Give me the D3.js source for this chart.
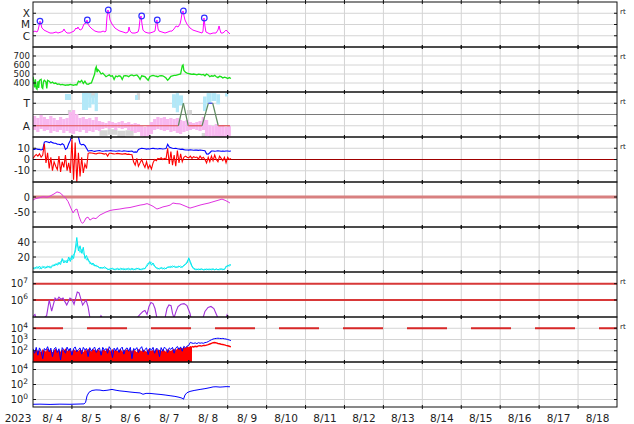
<!DOCTYPE html>
<html><head><meta charset="utf-8">
<script src="https://cdn.jsdelivr.net/npm/d3@7"></script>
<style>body{margin:0;background:#fff}text{font-family:"DejaVu Sans",sans-serif;fill:#222}</style>
</head><body><svg id="c" width="634" height="424"></svg>
<script>
// ---------------- DATA (hours since 2023-08-04 00:00) ----------------
const yearLabel = "2023";
const dayLabels = ["8/ 4","8/ 5","8/ 6","8/ 7","8/ 8","8/ 9","8/10","8/11","8/12","8/13","8/14","8/15","8/16","8/17","8/18"];

// Panel 1: X-ray flux
const xrsTicks = [1e-4, 1e-5, 1e-6];
const xrsTickLabels = ["X", "M", "C"];
const xrsData = [[0,2.15e-6],[1.2,2.6e-6],[2.5,2.15e-6],[3.1,3.2e-6],[3.7,7.4e-6],[4.3,2.0e-5],[4.9,1.1e-5],[5.5,4.9e-6],[6.8,3.2e-6],[8.0,2.6e-6],[9.2,2.15e-6],[10.5,1.75e-6],[12.3,1.75e-6],[14.2,2.15e-6],[15.4,1.75e-6],[17.3,2.15e-6],[18.5,2.6e-6],[19.1,4.0e-6],[19.7,2.6e-6],[21.0,1.75e-6],[22.8,1.75e-6],[24.0,2.15e-6],[25.3,2.6e-6],[26.5,4.9e-6],[27.1,4.0e-6],[27.7,6.0e-6],[28.4,4.0e-6],[29.0,3.2e-6],[30.2,4.0e-6],[31.4,1.1e-5],[32.7,1.36e-5],[33.3,2.5e-5],[33.9,1.1e-5],[35.1,6.0e-6],[36.4,4.0e-6],[38.2,2.6e-6],[40.1,2.15e-6],[41.9,2.15e-6],[43.2,2.6e-6],[44.4,2.15e-6],[45.0,2.6e-6],[45.6,4.6e-5],[46.2,1.95e-4],[46.9,8.6e-5],[47.5,2.5e-5],[48.7,1.1e-5],[50.5,4.9e-6],[52.4,3.2e-6],[53.6,2.6e-6],[55.5,2.15e-6],[57.3,1.75e-6],[58.6,2.15e-6],[59.2,6.0e-6],[59.8,2.6e-6],[61.0,1.75e-6],[62.9,1.75e-6],[64.7,2.15e-6],[65.3,4.0e-6],[66.0,3.1e-5],[66.6,5.7e-5],[67.2,1.1e-5],[67.8,3.2e-6],[69.0,2.15e-6],[70.9,1.75e-6],[72.1,1.75e-6],[74.0,2.15e-6],[75.2,2.6e-6],[75.8,1.1e-5],[76.4,2.5e-5],[77.1,4.0e-6],[77.7,2.6e-6],[79.5,2.15e-6],[81.4,1.75e-6],[83.2,2.15e-6],[84.5,2.6e-6],[85.7,2.6e-6],[86.9,4.0e-6],[88.2,7.4e-6],[89.4,6.0e-6],[90.6,1.1e-5],[91.2,2.5e-5],[91.9,1.05e-4],[92.5,1.6e-4],[93.1,5.7e-5],[93.7,2.5e-5],[94.9,1.1e-5],[96.8,4.9e-6],[98.6,3.2e-6],[100.5,2.6e-6],[102.3,2.15e-6],[104.2,1.75e-6],[104.8,2.6e-6],[105.4,3.8e-5],[106.0,7.4e-6],[106.6,2.15e-6],[107.9,1.75e-6],[109.1,1.43e-6],[111.0,1.75e-6],[112.8,1.75e-6],[114.0,3.2e-6],[114.7,7.4e-6],[115.3,3.2e-6],[115.9,1.75e-6],[117.1,1.75e-6],[118.4,2.6e-6],[119.0,3.2e-6],[120.2,2.15e-6],[121.4,1.43e-6]];
const flareData = [[4.3,2.0e-5],[33.5,2.5e-5],[46.4,1.95e-4],[67.0,5.7e-5],[76.6,2.5e-5],[92.7,1.6e-4],[105.6,3.8e-5]];

// Panel 2: solar wind speed
const windTicks = [700, 600, 500, 400];
const windData = [[0,470],[0.5,420],[1,350],[1.5,440],[2,340],[2.5,330],[3,420],[3.5,345],[4,430],[5,440],[5.5,350],[6,340],[6.5,420],[7,430],[8,410],[8.5,340],[9,430],[10,420],[11,400],[12,410],[13,395],[14,400],[15,385],[16,390],[17,380],[18,385],[19,380],[20,375],[21,380],[22,378],[23,385],[24,380],[25,375],[26,382],[27,378],[28,420],[29,410],[30,430],[31,395],[32,420],[33,390],[34,385],[35,395],[36,400],[37,450],[38,500],[38.5,560],[39,580],[39.5,520],[40,550],[41,530],[42,500],[43,510],[44,490],[45,470],[46,480],[47,490],[48,475],[49,480],[50,440],[51,478],[52,470],[53,480],[54,475],[55,440],[56,480],[57,482],[58,478],[59,470],[60,485],[61,490],[62,480],[63,485],[64,490],[65,470],[66,440],[67,480],[68,475],[69,470],[70,450],[71,430],[72,470],[73,480],[74,485],[75,478],[76,475],[77,470],[78,480],[79,482],[80,478],[81,470],[82,455],[83,430],[84,450],[85,475],[86,480],[87,485],[88,485],[89,490],[90,495],[91,500],[92,590],[92.5,600],[93,540],[94,520],[95,510],[96,505],[97,500],[98,495],[99,500],[100,495],[101,490],[102,498],[103,495],[104,490],[105,495],[106,480],[107,500],[108,490],[109,470],[110,480],[111,475],[112,485],[113,470],[114,460],[115,475],[116,470],[117,455],[118,465],[119,460],[120,450],[121,460],[122,450]];

// Panel 3: sector (A = 1, T = 3), 2-hour bins of scattered polarity points
const sectorTicks = [3, 1];
const sectorTickLabels = ["T", "A"];
const pinkHi = [1.87,1.69,1.96,1.78,1.60,1.87,1.69,1.51,1.78,1.60,1.69,2.22,2.40,2.04,1.69,1.78,1.60,1.69,1.51,1.78,1.42,1.33,1.24,1.42,1.33,1.24,1.33,1.42,1.24,1.33,1.16,1.24,1.16,0.98,0.89,1.07,1.33,1.60,1.78,1.69,1.78,1.60,1.69,1.60,1.69,1.51,1.42,1.51,1.33,1.24,1.33,1.42,1.78,1.51,1.07,0.98,1.16,0.98,1.07,0.89,0.98];
const pinkLo = [0.62,0.44,0.71,0.53,0.62,0.36,0.53,0.44,0.62,0.36,0.53,0.36,0.27,0.53,0.44,0.62,0.36,0.53,0.44,0.62,0.53,0.71,0.80,0.71,0.80,0.62,0.80,0.71,0.80,0.62,0.53,0.36,0.44,0.09,0.00,0.09,0.27,0.62,0.71,0.62,0.53,0.62,0.44,0.53,0.36,0.27,0.44,0.53,0.62,0.71,0.62,0.53,0.62,0.09,0.00,0.00,0.09,0.00,0.00,0.00,0.09];
const blueSpots = [[19.7,23.4,3.29,3.82],[30.2,33.9,2.4,3.91],[34,36,2.6,3.9],[36,38,2.9,3.7],[38,40,2.3,3.9],[62.9,64.7,3.29,3.73],[85.7,88,2.6,3.8],[88,90,2.2,3.9],[90,92.5,2.8,3.7],[104.8,107,2.3,3.6],[107,110,3.0,3.9],[110,113,3.2,3.9],[113,115.3,2.9,3.8],[118.4,120.2,3.6,3.9]];
const graySpots = [[21.5,23.5,2.0,2.4],[34,40,3.5,3.9],[41,46,0.1,0.6],[46,52,0.2,0.7],[52,57,0.0,0.55],[57,62,0.1,0.6],[64,66,3.3,3.9],[87,89,2.6,3.7],[95,98,2.0,2.4],[104,107,0.0,0.36],[111,118,0.0,0.2]];
const sectorHours = [0, 89.6, 92.7, 95.7, 104.2, 108.1, 110.8, 114.2, 121.4];
const sectorVals  = [1, 1, 3, 1, 1, 3, 3, 1, 1];

// Panel 4: IMF Bt (blue) and Bz (red), hourly
const bTicks = [10, 0, -10];
const btValues = [9,9,9.5,9,9,8.5,9,15.5,16,15.5,15,15.8,15,14.5,14.5,13.5,13.5,13,14,13,9,10,14,17,22,23,24,21,20,14,13,13.5,12.5,10,7.5,7.8,8,7.5,7.2,7.5,7.8,8,7.6,7.4,7.5,7.7,7.5,7.8,7.9,7.6,7.5,7.3,7.6,7.8,7.5,7.4,7.7,7.5,7.3,7.2,7.4,7.5,6.5,6.8,6.5,9,9.5,10,9.8,9.5,9.2,9.6,9.4,9.8,10,9.7,9.5,9.3,9.8,9.6,9.4,9.5,9.7,13.5,11,10.5,10,9.8,10,9.5,9.3,9,9.2,8.8,8.5,8.5,8.3,8.6,8.4,8.2,8.5,8.3,8.1,8.4,8.2,8,7.8,5,4.8,6,7.5,7.6,7.4,7.5,7.8,7.6,7.4,7.5,7.3,7.5,7.6,7.4,7.5];
const bzValues = [1,3,4.5,3,5,2,4,14,-3,6,-8,2,-10,-2,-6,-9,3,-11,-2,-7,4,-10,-3,-12,18,-18,15,-20,6,-15,2,-12,-4,-8,5.5,6,5.8,5.5,5.2,5,5.5,5.8,5.5,5.2,4.8,5.3,3,5.5,5.6,5.2,4.9,5.1,5.4,5.2,5,4.8,5,5.2,4.6,4.8,4.5,4.2,-2,-5,1,-6,-3,0,-4,-7,-2,-8,-5,-8.5,-3,0,-1,1,0.5,1.5,0,1,0.5,10,-4,7,-5,4,-6,8,-3,5,-2,2,3,2,1.5,3,1,2.5,1.8,2.2,0.5,3,1,2,0,-3,2,-2,3,-1,4,0,-2,3,1,-1,2,-3,2,0,1];

// Panel 5: Dst-like index
const dstTicks = [0, -50];
const dstData = [[0,-10],[1.8,-5],[4.3,-2],[6.2,1],[8.6,-1],[10.5,3],[12.9,10],[14.8,17],[16.6,14],[18.5,5],[20.3,-5],[21.6,-15],[22.8,-30],[24,-45],[24.7,-53],[25.9,-43],[27.1,-40],[28.4,-65],[29.6,-82],[30.5,-88],[31.4,-83],[32.7,-70],[33.9,-67],[35.1,-77],[37,-70],[38.8,-72],[41.3,-60],[43.2,-55],[45,-50],[47.5,-45],[49.3,-43],[53.6,-40],[56.7,-37],[59.8,-35],[62.9,-31],[66,-27],[68.4,-25],[70.3,-22],[72.1,-26],[74,-31],[76.4,-40],[78.2,-37],[80.1,-33],[82.6,-30],[84.5,-27],[86.3,-20],[88.2,-22],[90.6,-23],[93.7,-30],[96.8,-37],[99.3,-33],[101.1,-30],[103.6,-26],[106,-23],[108.5,-20],[110.3,-17],[112.8,-13],[115.3,-9],[116.5,-7],[118.4,-11],[120.2,-16],[121.4,-20]];

// Panel 6: two cyan series, hourly
const cyanTicks = [40, 20];
const cyanA = [6,4,7,5,8,4,6,7,5,8,6,7,9,8,11,9,13,10,18,12,15,12,20,14,22,18,30,46,28,35,25,33,18,22,15,14,10,12,8,9,7,6,6,5,7,5,4,3,4,5,3,4,4,3,5,4,3,4,4,5,3,4,3,4,5,4,3,4,4,5,7,10,14,9,12,8,6,5,4,6,5,4,5,6,7,6,8,7,6,7,8,6,7,9,10,12,19,14,8,5,4,3,4,3,4,3,3,4,3,4,3,4,3,4,3,4,4,3,4,6,9,8,10];
const cyanB = [4,6,5,7,4,6,8,5,7,6,8,5,8,10,9,12,10,14,15,16,13,16,15,19,16,24,26,38,32,26,30,24,22,16,18,11,12,9,10,7,8,5,5,6,5,6,3,4,5,4,4,3,5,4,3,4,5,3,4,3,4,5,4,3,4,5,4,3,5,4,9,12,11,13,10,7,5,4,5,5,4,6,4,7,6,8,6,8,7,6,7,8,6,8,11,14,17,12,7,4,3,4,3,4,4,3,4,3,4,3,4,4,3,4,3,3,4,4,3,8,7,10,9];

// Panel 7: purple series (log)
const purpleTicks = [1e7, 1e6];
const purpleData = [[0,1.0e5],[1.2,1.3e5],[1.8,8e4],[6.8,8e4],[8.4,1.1e5],[10,1.0e6],[11.5,2.1e5],[13.6,1.3e6],[14.8,1.0e6],[16,1.5e6],[17.3,1.1e6],[18.5,1.3e6],[20.8,4.9e5],[22.8,1.3e6],[24,1.1e6],[25.3,5.5e5],[27.3,3.1e6],[28.4,2.7e6],[30.6,4.9e5],[32.7,1.0e6],[33.9,4e5],[35.1,8e4],[41.3,8e4],[41.9,1.1e5],[42.8,8e4],[64.1,8e4],[66,1.3e5],[67.8,2e5],[69,2.3e5],[70.3,1.3e5],[71.5,4e5],[72.7,7e5],[74,6e5],[75.2,3e5],[76.4,8e4],[81.4,8e4],[82.6,3e5],[83.8,5e5],[85.1,4.5e5],[86,1.5e5],[86.9,8e4],[88.2,2e5],[89.4,4e5],[91.2,5.5e5],[93.1,6e5],[94.9,4.5e5],[96.8,1.5e5],[97.4,8e4],[104.8,8e4],[106,2e5],[107.9,3.5e5],[109.7,4e5],[111.5,3e5],[112.8,1.5e5],[114,8e4],[119,8e4],[119.6,1.2e5],[120.2,8e4]];

// Panel 8: protons (log), hourly
const protonTicks = [1e4, 1e3, 1e2];
const protonRed = [120,80,150,90,110,70,140,100,85,160,95,130,75,110,150,90,120,80,140,100,170,90,130,110,80,150,100,125,90,140,110,75,130,95,160,105,85,140,115,90,150,100,80,130,110,95,170,120,85,140,100,130,90,115,150,80,125,105,140,95,120,85,135,100,75,145,110,90,130,100,80,140,115,95,125,85,150,105,120,90,135,100,80,145,110,95,125,150,105,170,140,190,160,220,180,250,210,270,240,220,250,230,270,280,260,300,290,320,350,400,460,520,540,500,440,420,380,360,330,300,280,250,220];
const protonBlue = [150,60,200,40,180,90,20,160,110,230,80,170,30,140,200,70,150,15,190,120,60,210,100,170,40,150,220,80,130,180,50,200,120,160,30,190,90,150,210,70,140,180,40,200,110,160,60,230,130,25,170,100,190,70,150,210,50,140,180,90,200,20,160,120,190,70,150,230,80,130,180,45,170,110,200,60,160,140,30,190,90,210,150,70,180,130,200,60,170,240,130,220,90,250,180,260,300,560,480,450,500,430,520,470,500,460,530,560,650,800,950,1100,1200,1250,1300,1250,1200,1250,1150,1100,1000,900,800];
const protonFillEnd = 98;

// Panel 9: electrons (log)
const electronTicks = [1e4, 1e2, 1e0];
const electronData = [[0,0.23],[4.3,0.24],[10.5,0.22],[16.6,0.24],[22.8,0.23],[29,0.25],[31.4,0.26],[32.4,0.4],[33.3,3],[34.5,9],[36.4,16],[38.8,19],[41.3,18],[43.2,15],[45.6,17],[48.7,22],[51.2,17],[53.6,14],[56.7,12],[59.8,10],[62.9,8.5],[66,7.5],[67.8,5],[69.7,6.5],[72.1,6.5],[75.2,5.5],[78.3,4.8],[81.4,4],[84.5,3.2],[87.5,2.6],[90,2],[91.9,1.5],[92.8,1.1],[93.7,4],[94.9,8],[96.8,12],[99.3,16],[103,22],[106,28],[109.1,38],[111,48],[112.8,50],[115.3,45],[117.1,48],[119,52],[121.4,50]];

// ---------------- CHART ----------------
const L = 33, R = 617, TOP = 2, PH = 45, NP = 9, BOT = TOP + PH * NP;
const svg = d3.select("#c");
const x = d3.scaleLinear().domain([0, 360]).range([L, R]);

const scaleDefs = [
  d3.scaleLog().domain([1e-7, 1e-3]),
  d3.scaleLinear().domain([300, 800]),
  d3.scaleLinear().domain([0, 4]),
  d3.scaleLinear().domain([-20, 20]),
  d3.scaleLinear().domain([-100, 50]),
  d3.scaleLinear().domain([0, 60]),
  d3.scaleLog().domain([9.06e4, 5.2e7]),
  d3.scaleLog().domain([10, 1e5]),
  d3.scaleLog().domain([0.1, 1e5])
];
const tickSets = [xrsTicks, windTicks, sectorTicks, bTicks, dstTicks, cyanTicks, purpleTicks, protonTicks, electronTicks];
const rtPanels = [0, 1, 2, 3, 6, 7];
const ys = scaleDefs.map((s, i) => s.range([TOP + PH * (i + 1), TOP + PH * i]));

const defs = svg.append("defs");
ys.forEach((s, i) => {
  defs.append("clipPath").attr("id", "cp" + i).append("rect")
    .attr("x", L).attr("y", TOP + PH * i).attr("width", R - L).attr("height", PH);
});

const grid = svg.append("g");
d3.range(1, 15).forEach(k => {
  grid.append("line").attr("x1", x(24 * k)).attr("x2", x(24 * k)).attr("y1", TOP).attr("y2", BOT)
    .attr("stroke", "#d4d4d4").attr("stroke-width", 1);
});
ys.forEach((s, i) => {
  tickSets[i].forEach(v => {
    grid.append("line").attr("x1", L).attr("x2", R).attr("y1", s(v)).attr("y2", s(v))
      .attr("stroke", "#d4d4d4").attr("stroke-width", 1);
  });
});

function layer(i) { return svg.append("g").attr("clip-path", "url(#cp" + i + ")"); }
const lineXY = (s) => d3.line().x(d => x(d[0])).y(d => s(d[1]));
const lineIdx = (s) => d3.line().x((d, j) => x(j)).y(d => s(d));

// Panel 1
{
  const g = layer(0), s = ys[0];
  g.append("path").datum(xrsData).attr("d", lineXY(s)).attr("fill", "none").attr("stroke", "#ff00ff").attr("stroke-width", 1);
  g.selectAll("circle").data(flareData).join("circle").attr("cx", d => x(d[0])).attr("cy", d => s(d[1]))
    .attr("r", 2.8).attr("fill", "none").attr("stroke", "#3030ff").attr("stroke-width", 1.2);
}
// Panel 2
{
  const g = layer(1), s = ys[1];
  g.append("path").datum(windData).attr("d", lineXY(s)).attr("fill", "none").attr("stroke", "#19e019").attr("stroke-width", 1.3);
}
// Panel 3
{
  const g = layer(2), s = ys[2];
  g.append("line").attr("x1", L).attr("x2", R).attr("y1", s(2)).attr("y2", s(2)).attr("stroke", "#7a7a7a").attr("stroke-width", 1);
  g.selectAll("rect.g").data(graySpots).join("rect").attr("class", "g")
    .attr("x", d => x(d[0])).attr("width", d => x(d[1]) - x(d[0])).attr("y", d => s(d[3])).attr("height", d => s(d[2]) - s(d[3]))
    .attr("fill", "#d6d6d6");
  g.selectAll("rect.b").data(blueSpots).join("rect").attr("class", "b")
    .attr("x", d => x(d[0])).attr("width", d => x(d[1]) - x(d[0])).attr("y", d => s(d[3])).attr("height", d => s(d[2]) - s(d[3]))
    .attr("fill", "#b2e8f8");
  g.selectAll("rect.p").data(pinkHi).join("rect").attr("class", "p")
    .attr("x", (d, j) => x(2 * j)).attr("width", x(2) - x(0)).attr("y", d => s(d)).attr("height", (d, j) => s(pinkLo[j]) - s(d))
    .attr("fill", "#f8b8f0");
  for (let j = 0; j < sectorHours.length - 1; j++) {
    const a = sectorVals[j], b = sectorVals[j + 1];
    const col = a !== b ? "#5e8a5e" : (a === 1 ? "#e05050" : "#4040e0");
    g.append("line").attr("x1", x(sectorHours[j])).attr("x2", x(sectorHours[j + 1]))
      .attr("y1", s(a)).attr("y2", s(b)).attr("stroke", col).attr("stroke-width", 1.2);
  }
}
// Panel 4
{
  const g = layer(3), s = ys[3];
  g.append("line").attr("x1", L).attr("x2", R).attr("y1", s(0)).attr("y2", s(0)).attr("stroke", "#a00000").attr("stroke-width", 1.2);
  g.append("path").datum(btValues).attr("d", lineIdx(s)).attr("fill", "none").attr("stroke", "#0000ff").attr("stroke-width", 1.1);
  g.append("path").datum(bzValues).attr("d", lineIdx(s)).attr("fill", "none").attr("stroke", "#ff0000").attr("stroke-width", 1.1);
}
// Panel 5
{
  const g = layer(4), s = ys[4];
  g.append("line").attr("x1", L).attr("x2", R).attr("y1", s(0)).attr("y2", s(0)).attr("stroke", "#d88080").attr("stroke-width", 3);
  g.append("path").datum(dstData).attr("d", lineXY(s)).attr("fill", "none").attr("stroke", "#e030e0").attr("stroke-width", 1);
}
// Panel 6
{
  const g = layer(5), s = ys[5];
  g.append("path").datum(cyanB).attr("d", lineIdx(s)).attr("fill", "none").attr("stroke", "#40f0f0").attr("stroke-width", 1);
  g.append("path").datum(cyanA).attr("d", lineIdx(s)).attr("fill", "none").attr("stroke", "#00e8f0").attr("stroke-width", 1);
}
// Panel 7
{
  const g = layer(6), s = ys[6];
  purpleTicks.forEach(v => g.append("line").attr("x1", L).attr("x2", R).attr("y1", s(v)).attr("y2", s(v)).attr("stroke", "#d83838").attr("stroke-width", 2));
  g.append("path").datum(purpleData).attr("d", lineXY(s)).attr("fill", "none").attr("stroke", "#a030d8").attr("stroke-width", 1.1);
}
// Panel 8
{
  const g = layer(7), s = ys[7];
  g.append("line").attr("x1", L).attr("x2", R).attr("y1", s(1e4)).attr("y2", s(1e4)).attr("stroke", "#d82828").attr("stroke-width", 2)
    .attr("stroke-dasharray", "40,24").attr("stroke-dashoffset", 10);
  const fillPart = protonRed.slice(0, protonFillEnd + 1);
  g.append("path").datum(fillPart).attr("d", d3.area().x((d, j) => x(j)).y0(TOP + PH * 8).y1(d => s(d))).attr("fill", "#ff0000");
  g.append("path").datum(protonBlue).attr("d", lineIdx(s)).attr("fill", "none").attr("stroke", "#0000ff").attr("stroke-width", 1);
  const linePart = protonRed.map((d, j) => [j, d]).filter(d => d[0] >= protonFillEnd);
  g.append("path").datum(linePart).attr("d", lineXY(s)).attr("fill", "none").attr("stroke", "#ff0000").attr("stroke-width", 1.4);
}
// Panel 9
{
  const g = layer(8), s = ys[8];
  g.append("path").datum(electronData).attr("d", lineXY(s)).attr("fill", "none").attr("stroke", "#0000ff").attr("stroke-width", 1);
}

// frames, ticks, labels
const fr = svg.append("g");
ys.forEach((s, i) => {
  const y0 = TOP + PH * i, y1 = y0 + PH;
  fr.append("rect").attr("x", L).attr("y", y0).attr("width", R - L).attr("height", PH)
    .attr("fill", "none").attr("stroke", "#111").attr("stroke-width", 1);
  d3.range(1, 15).forEach(k => {
    [y0, y1].forEach(yy => fr.append("line").attr("x1", x(24 * k)).attr("x2", x(24 * k)).attr("y1", yy - 2).attr("y2", yy + 2)
      .attr("stroke", "#111").attr("stroke-width", 1));
  });
  const fs = i === 1 ? 8.6 : (i === 0 || i === 2 ? 10.5 : 9.8);
  tickSets[i].forEach((v, j) => {
    fr.append("line").attr("x1", R - 3).attr("x2", R).attr("y1", s(v)).attr("y2", s(v)).attr("stroke", "#111");
    fr.append("line").attr("x1", L).attr("x2", L + 3).attr("y1", s(v)).attr("y2", s(v)).attr("stroke", "#111");
    const t = fr.append("text").attr("x", 30).attr("y", s(v)).attr("text-anchor", "end").attr("font-size", fs);
    if (i === 0) t.attr("dy", "0.36em").text(xrsTickLabels[j]);
    else if (i === 2) t.attr("dy", "0.36em").text(sectorTickLabels[j]);
    else if (i >= 6) {
      t.attr("x", 28).attr("dy", "0.36em");
      t.append("tspan").text("10");
      t.append("tspan").attr("dy", "-0.55em").attr("font-size", 7.5).text(String(Math.round(Math.log10(v))));
    } else t.attr("dy", "0.36em").text(String(v));
  });
  if (rtPanels.includes(i)) {
    fr.append("text").attr("x", 620).attr("y", y0 + 12).attr("font-size", 7).attr("fill", "#444").text("rt");
  }
});
fr.append("text").attr("x", 18).attr("y", 422).attr("text-anchor", "middle").attr("font-size", 10.5).text(yearLabel);
dayLabels.forEach((lab, k) => {
  fr.append("text").attr("x", x(24 * k + 12)).attr("y", 422).attr("text-anchor", "middle").attr("font-size", 10.5).text(lab);
});
</script></body></html>
